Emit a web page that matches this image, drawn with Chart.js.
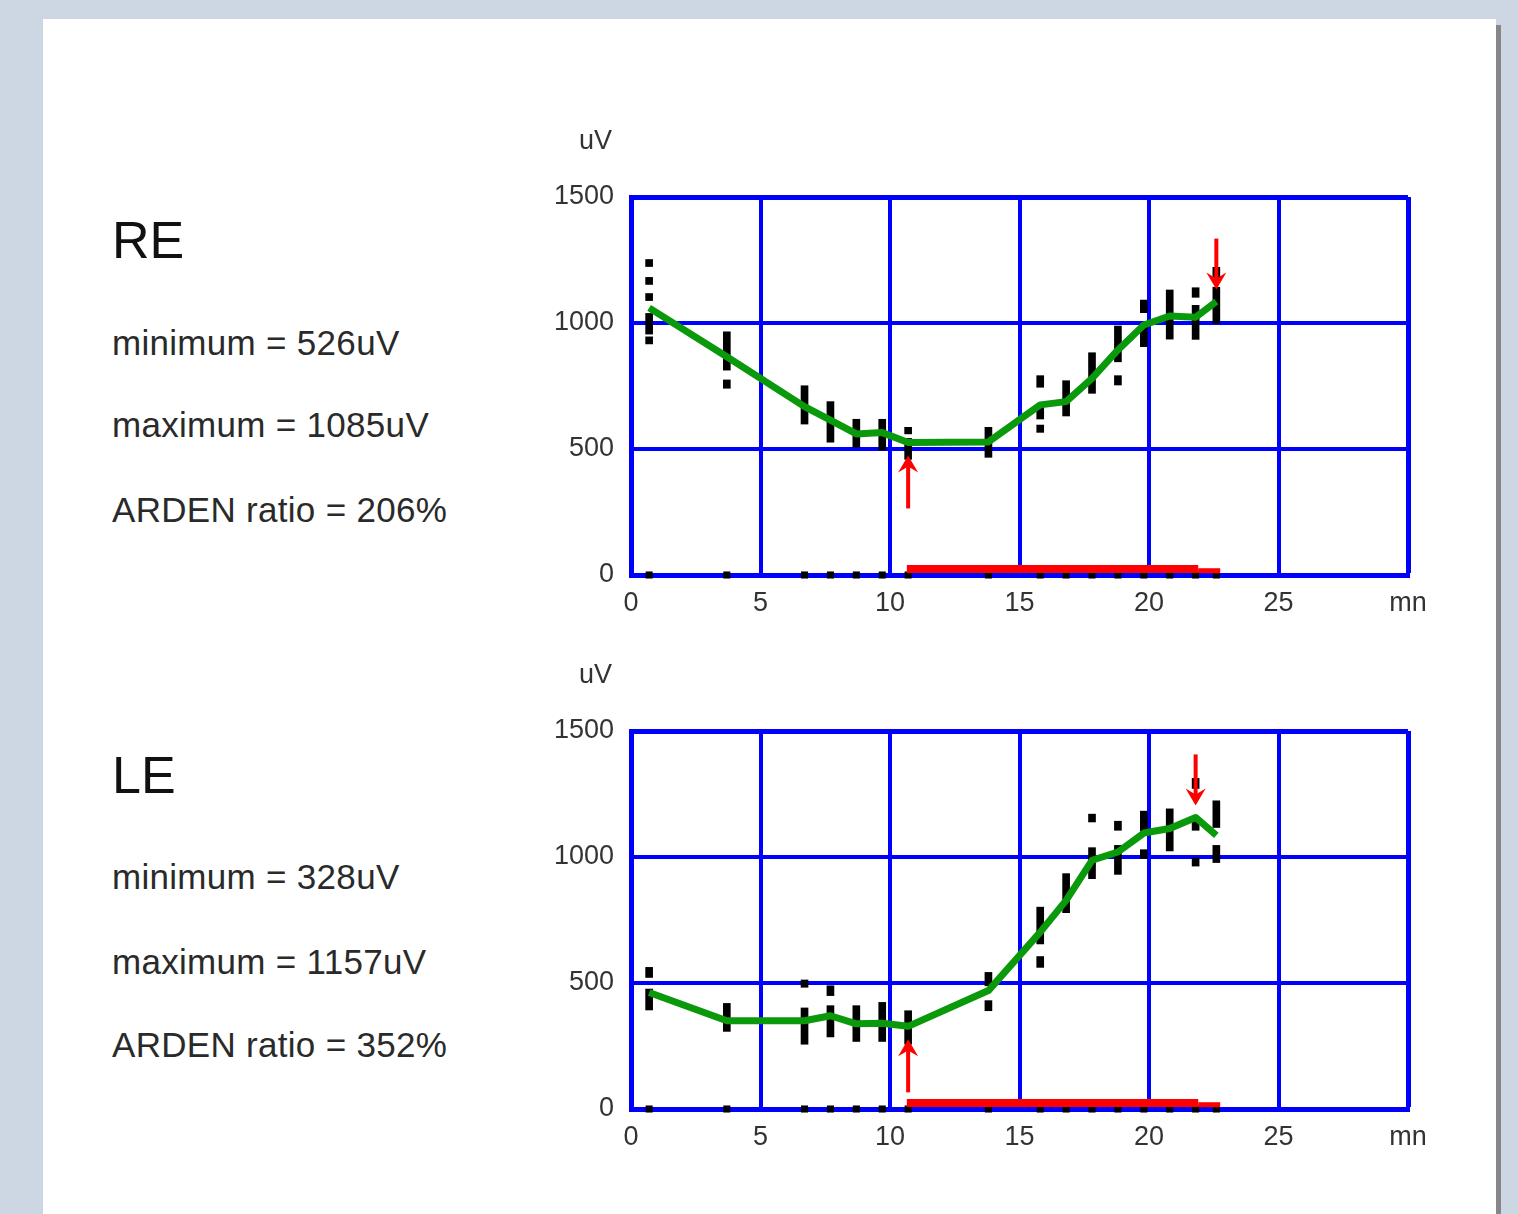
<!DOCTYPE html>
<html>
<head>
<meta charset="utf-8">
<script src="https://cdn.jsdelivr.net/npm/chart.js@4.4.1/dist/chart.umd.min.js"></script>
<style>
  body { margin: 0; width: 1518px; height: 1214px; overflow: hidden; position: relative; background: #cdd7e3; font-family: "Liberation Sans", Arial, sans-serif; }
  #panel { position: absolute; left: 43px; top: 19px; width: 1453px; height: 1195px; background: #fff; }
  #shadow { position: absolute; left: 1496px; top: 25px; width: 5px; height: 1189px; background: #868686; }
  .eye { position: absolute; left: 112px; font-size: 52px; line-height: 52px; color: #111; }
  .info { position: absolute; left: 112px; font-size: 35px; line-height: 36px; color: #2a2a2a; white-space: nowrap; letter-spacing: 0.3px; }
  .box { position: absolute; left: 530px; }
</style>
</head>
<body>
<div id="panel"></div>
<div id="shadow"></div>

<div class="eye" style="top:214px">RE</div>
<div class="info" style="top:325px">minimum = 526uV</div>
<div class="info" style="top:407px">maximum = 1085uV</div>
<div class="info" style="top:492px">ARDEN ratio = 206%</div>

<div class="eye" style="top:749px">LE</div>
<div class="info" style="top:859px">minimum = 328uV</div>
<div class="info" style="top:944px">maximum = 1157uV</div>
<div class="info" style="top:1027px">ARDEN ratio = 352%</div>

<div class="box" style="top:110px"><canvas id="re" width="930" height="530"></canvas></div>
<div class="box" style="top:644px"><canvas id="le" width="930" height="530"></canvas></div>

<script>
// recording times (minutes)
const times = [0.7, 3.7, 6.7, 7.7, 8.7, 9.7, 10.7, 13.8, 15.8, 16.8, 17.8, 18.8, 19.8, 20.8, 21.8, 22.6];

// mean amplitude per time (uV)
const reMean = [1060, 866, 668, 615, 560, 565, 526, 528, 675, 688, 780, 893, 992, 1028, 1023, 1085];
const leMean = [462, 350, 350, 370, 338, 340, 328, 470, 702, 828, 987, 1020, 1095, 1113, 1157, 1086];

// raw measurement spans per time, [low, high] in uV
const reMarks = [
  [[1224, 1252], [1153, 1181], [1089, 1117], [956, 1038], [917, 945]],
  [[813, 965], [741, 774]],
  [[599, 751]],
  [[527, 688]],
  [[507, 618]],
  [[496, 618]],
  [[560, 586], [459, 542]],
  [[467, 586]],
  [[745, 791], [619, 675], [566, 595]],
  [[631, 771]],
  [[721, 882]],
  [[846, 988], [754, 791]],
  [[1041, 1091], [906, 985]],
  [[936, 1131]],
  [[1102, 1140], [935, 1070]],
  [[1177, 1221], [999, 1142]]
];
const leMarks = [
  [[522, 562], [393, 476]],
  [[308, 419]],
  [[483, 512], [257, 401]],
  [[450, 489], [286, 410]],
  [[268, 410]],
  [[268, 423]],
  [[257, 390]],
  [[489, 542], [390, 430]],
  [[655, 801], [562, 605]],
  [[779, 934]],
  [[1139, 1170], [914, 1037]],
  [[1106, 1142], [931, 1046]],
  [[1103, 1182], [994, 1029]],
  [[1024, 1191]],
  [[1272, 1312], [1106, 1142], [964, 996]],
  [[1117, 1223], [978, 1046]]
];

// light stimulus period (minutes)
const lightOn = [10.65, 21.9];
const lightTail = [21.9, 22.75];

const xTickLabels = ['0', '5', '10', '15', '20', '25', 'mn'];
const yTickLabels = ['0', '500', '1000', '1500'];

const BLUE = '#0000ff';
const GREEN = '#0a990a';
const RED = '#ff0000';
const TICK_FONT = { family: 'Liberation Sans', size: 27 };

function drawArrow(ctx, x, tipY, tailY) {
  const dir = tipY < tailY ? 1 : -1; // 1 = pointing up
  const headH = 17, headW = 10;
  ctx.strokeStyle = RED;
  ctx.fillStyle = RED;
  ctx.lineWidth = 4;
  ctx.beginPath();
  ctx.moveTo(x, tailY);
  ctx.lineTo(x, tipY + dir * headH * 0.6);
  ctx.stroke();
  ctx.beginPath();
  ctx.moveTo(x, tipY);
  ctx.lineTo(x - headW, tipY + dir * headH);
  ctx.lineTo(x, tipY + dir * headH * 0.65);
  ctx.lineTo(x + headW, tipY + dir * headH);
  ctx.closePath();
  ctx.fill();
}

const extras = {
  id: 'extras',
  afterDatasetsDraw(chart, args, opts) {
    const { ctx, chartArea, scales: { x, y } } = chart;
    ctx.save();
    ctx.fillStyle = '#333';
    ctx.font = '27px "Liberation Sans"';
    ctx.textAlign = 'right';
    ctx.textBaseline = 'middle';
    ctx.fillText('uV', chartArea.left - 19, chartArea.top - 55);

    const mean = opts.mean;
    let iMin = 0, iMax = 0;
    mean.forEach((v, i) => {
      if (v < mean[iMin]) iMin = i;
      if (v > mean[iMax]) iMax = i;
    });
    const px1 = x.getPixelForValue(times[iMin]);
    const py1 = y.getPixelForValue(mean[iMin]);
    drawArrow(ctx, px1, py1 + 13, py1 + 66);
    const px2 = x.getPixelForValue(times[iMax]);
    const py2 = y.getPixelForValue(mean[iMax]);
    drawArrow(ctx, px2, py2 - 12, py2 - 63);
    ctx.restore();
  }
};

function buildChart(id, mean, marks) {
  const markData = [];
  marks.forEach((group, i) => group.forEach(r => markData.push({ x: times[i], y: r })));

  return new Chart(document.getElementById(id), {
    type: 'scatter',
    data: {
      datasets: [
        {
          type: 'line',
          data: times.map((t, i) => ({ x: t, y: mean[i] })),
          borderColor: GREEN,
          borderWidth: 7,
          pointRadius: 0,
          borderJoinStyle: 'round',
          tension: 0
        },
        {
          type: 'line',
          data: lightOn.map(t => ({ x: t, y: 24 })),
          borderColor: RED,
          borderWidth: 8,
          pointRadius: 0,
          borderCapStyle: 'butt',
          clip: false
        },
        {
          type: 'line',
          data: lightTail.map(t => ({ x: t, y: 17 })),
          borderColor: RED,
          borderWidth: 5,
          pointRadius: 0,
          borderCapStyle: 'butt',
          clip: false
        },
        {
          type: 'scatter',
          data: times.map(t => ({ x: t, y: 0 })),
          pointStyle: 'rect',
          pointRadius: 5,
          backgroundColor: '#000',
          borderWidth: 0,
          clip: false
        },
        {
          type: 'bar',
          data: markData,
          backgroundColor: '#000',
          borderWidth: 0,
          barThickness: 7
        }
      ]
    },
    options: {
      responsive: false,
      animation: false,
      events: [],
      layout: { padding: { top: 87, right: 52, left: 0, bottom: 0 } },
      plugins: {
        legend: { display: false },
        tooltip: { enabled: false },
        extras: { mean: mean }
      },
      scales: {
        x: {
          type: 'linear',
          min: 0,
          max: 30,
          offset: false,
          afterFit: s => { s.height = 65; },
          ticks: {
            stepSize: 5,
            autoSkip: false,
            maxRotation: 0,
            padding: 12,
            color: '#333',
            font: TICK_FONT,
            callback: (v, i) => xTickLabels[i]
          },
          grid: {
            color: BLUE,
            lineWidth: c => (c.tick && c.tick.value === 30 ? 5 : 4),
            drawTicks: false,
            offset: false
          },
          border: { color: BLUE, width: 5 }
        },
        y: {
          type: 'linear',
          min: 0,
          max: 1500,
          afterFit: s => { s.width = 101; },
          ticks: {
            stepSize: 500,
            padding: 17,
            color: '#333',
            font: TICK_FONT,
            callback: (v, i) => yTickLabels[i]
          },
          grid: {
            color: BLUE,
            lineWidth: c => (c.tick && c.tick.value === 1500 ? 5 : 4),
            drawTicks: false
          },
          border: { color: BLUE, width: 5 }
        }
      }
    },
    plugins: [extras]
  });
}

buildChart('re', reMean, reMarks);
buildChart('le', leMean, leMarks);
</script>
</body>
</html>
